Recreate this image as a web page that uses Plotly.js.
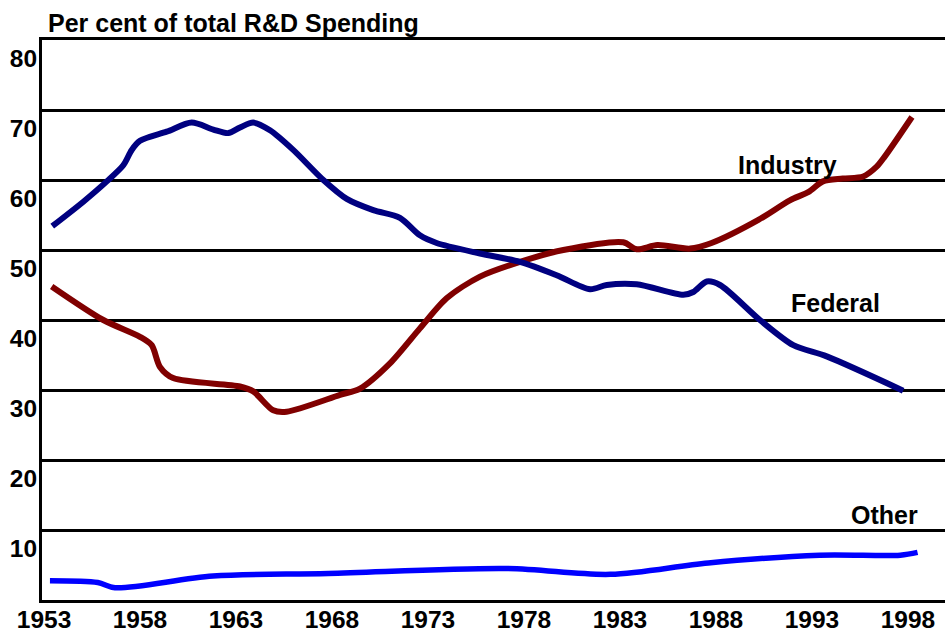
<!DOCTYPE html>
<html>
<head>
<meta charset="utf-8">
<script src="https://cdn.plot.ly/plotly-3.0.1.min.js"></script>
<style>
html, body { margin: 0; padding: 0; background: #fff; }
#chart { width: 945px; height: 632px; }
</style>
</head>
<body>
<div id="chart"></div>
<script>
// Federal share of total R&D spending (%)
var federalYears = [1953.43, 1955.05, 1956.27, 1957.13, 1957.57, 1958.0, 1959.39, 1960.69, 1961.82, 1962.6, 1963.21, 1963.9, 1964.77, 1965.98, 1967.55, 1968.77, 1970.15, 1971.54, 1972.58, 1973.45, 1975.71, 1977.79, 1979.7, 1981.44, 1982.31, 1983.87, 1986.3, 1986.82, 1987.52, 1988.21, 1990.29, 1992.03, 1993.77, 1997.75];
var federalValues = [53.4, 56.9, 59.8, 62.1, 64.3, 65.6, 66.9, 68.2, 67.2, 66.7, 67.5, 68.2, 67.1, 64.3, 60.0, 57.3, 55.7, 54.6, 52.1, 51.0, 49.5, 48.3, 46.4, 44.4, 45.0, 45.1, 43.6, 44.0, 45.5, 45.0, 40.0, 36.4, 34.8, 29.9];

// Industry share
var industryYears = [1953.4, 1956.09, 1958.0, 1958.61, 1959.04, 1959.73, 1963.21, 1963.9, 1964.94, 1965.64, 1968.42, 1969.46, 1971.02, 1972.58, 1973.97, 1975.71, 1977.79, 1980.05, 1983.17, 1983.87, 1984.95, 1986.65, 1987.77, 1990.21, 1991.85, 1992.83, 1993.57, 1994.61, 1995.67, 1996.37, 1996.78, 1998.21];
var industryValues = [44.8, 40.0, 37.6, 36.4, 33.3, 31.7, 30.5, 29.8, 27.1, 26.9, 29.3, 30.2, 33.8, 38.8, 43.1, 46.2, 48.3, 50.0, 51.1, 50.1, 50.7, 50.2, 51.0, 54.3, 57.1, 58.3, 59.8, 60.2, 60.5, 61.9, 63.3, 69.0];

// Other share
var otherYears = [1953.31, 1955.8, 1956.7, 1961.8, 1967.8, 1977.1, 1982.5, 1987.6, 1993.4, 1997.6, 1998.5];
var otherValues = [2.76, 2.5, 1.76, 3.43, 3.8, 4.5, 3.67, 5.3, 6.4, 6.4, 6.8];

// Axis ticks
var xTickVals = [1953, 1958, 1963, 1968, 1973, 1978, 1983, 1988, 1993, 1998];
var xTickText = ['1953', '1958', '1963', '1968', '1973', '1978', '1983', '1988', '1993', '1998'];
var yTickVals = [10, 20, 30, 40, 50, 60, 70, 80];
var yTickText = ['10', '20', '30', '40', '50', '60', '70', '80'];

// Series labels
var labelNames = ['Industry', 'Federal', 'Other'];
var labelYears = [1991.75, 1994.25, 1996.8];
var labelValues = [62.1, 42.4, 12.1];

var FONT = 'Liberation Sans, Arial, Helvetica, sans-serif';

var traces = [
  {x: otherYears, y: otherValues, mode: 'lines', line: {color: '#0000FF', width: 5.5, shape: 'spline', smoothing: 0.9}, hoverinfo: 'skip'},
  {x: industryYears, y: industryValues, mode: 'lines', line: {color: '#800000', width: 6, shape: 'spline', smoothing: 0.8}, hoverinfo: 'skip'},
  {x: federalYears, y: federalValues, mode: 'lines', line: {color: '#000080', width: 6, shape: 'spline', smoothing: 0.8}, hoverinfo: 'skip'}
];

var annotations = labelNames.map(function (t, i) {
  return {x: labelYears[i], y: labelValues[i], xref: 'x', yref: 'y', text: t, showarrow: false,
          font: {family: FONT, size: 25, color: '#000', weight: 700}, xanchor: 'center', yanchor: 'middle'};
});

var layout = {
  width: 945, height: 632,
  margin: {l: 42, r: 0, t: 40, b: 32, pad: 0},
  paper_bgcolor: '#fff', plot_bgcolor: '#fff',
  showlegend: false,
  title: {text: 'Per cent of total R&D Spending', font: {family: FONT, size: 25, color: '#000', weight: 700},
          xref: 'container', yref: 'container', x: 48 / 945, xanchor: 'left', y: 1 - 23 / 632, yanchor: 'middle'},
  xaxis: {range: [1952.896, 1999.93], tickvals: xTickVals, ticktext: xTickText, showgrid: false, zeroline: false,
          showline: true, mirror: true, linecolor: '#000', linewidth: 3, ticks: '',
          ticklabelstandoff: -4,
          tickfont: {family: FONT, size: 24.5, color: '#000', weight: 700}, fixedrange: true},
  yaxis: {range: [0, 80], tickvals: yTickVals, ticktext: yTickText, showgrid: true, gridcolor: '#000', gridwidth: 3,
          zeroline: false, showline: true, linecolor: '#000', linewidth: 3, ticks: '',
          ticklabelshift: 18, ticklabelstandoff: -3,
          tickfont: {family: FONT, size: 24.5, color: '#000', weight: 700}, fixedrange: true},
  annotations: annotations
};

Plotly.newPlot('chart', traces, layout, {displayModeBar: false, staticPlot: true});
</script>
</body>
</html>
